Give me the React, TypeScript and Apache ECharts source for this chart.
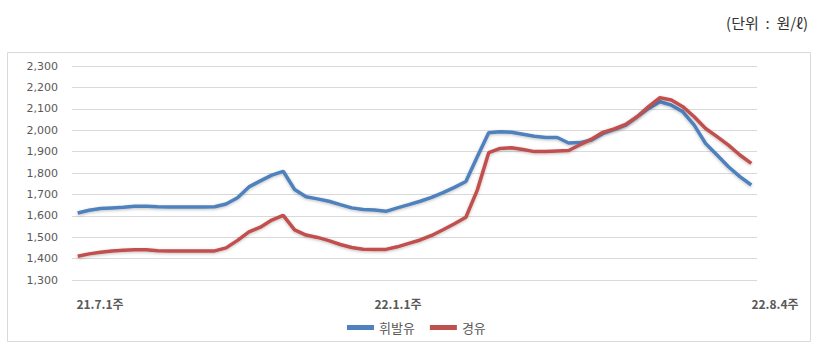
import React, { useEffect, useRef } from "react";
import * as echarts from "echarts";

const weeks: string[] = Array.from({ length: 60 }, (_, i) => `w${i + 1}`);
const xTickLabels = ["21.7.1주", "22.1.1주", "22.8.4주"];
const seriesNames = ["휘발유", "경유"];
const gasoline = [
  1613, 1626, 1634, 1637, 1640, 1645, 1645, 1642, 1641, 1641,
  1641, 1641, 1642, 1655, 1684, 1735, 1763, 1790, 1808, 1723,
  1689, 1679, 1668, 1652, 1637, 1629, 1627, 1621, 1637, 1652,
  1668, 1686, 1708, 1733, 1760, 1876, 1988, 1993, 1990, 1981,
  1972, 1966, 1966, 1940, 1942, 1954, 1985, 2004, 2024, 2063,
  2102, 2133, 2117, 2086, 2024, 1938, 1884, 1829, 1783, 1744,
];
const diesel = [
  1411, 1422, 1430, 1436, 1439, 1441, 1441, 1437, 1435, 1436,
  1436, 1436, 1436, 1450, 1485, 1525, 1547, 1580, 1602, 1534,
  1510, 1499, 1484, 1466, 1452, 1444, 1442, 1443, 1455, 1471,
  1487, 1508, 1535, 1563, 1593, 1720, 1895, 1915, 1918, 1910,
  1900, 1900, 1903, 1905, 1932, 1958, 1990, 2006, 2027, 2063,
  2110, 2152, 2141, 2110, 2063, 2008, 1970, 1930, 1884, 1845,
];
const unitText = "(단위  :  원/ℓ)";

export default function App() {
  const ref = useRef<HTMLDivElement>(null);
  useEffect(() => {
    document.body.style.margin = "0";
    const chart = echarts.init(ref.current!, null, { renderer: "svg" });
    const font = "'Noto Sans CJK KR', 'Noto Sans', sans-serif";
    const labelPos = [100, 398, 775];
    chart.setOption({
      animation: false,
      backgroundColor: "#ffffff",
      textStyle: { fontFamily: font },
      grid: { left: 72, right: 80, top: 66, bottom: 80, containLabel: false },
      xAxis: {
        type: "category",
        data: weeks,
        boundaryGap: true,
        axisLine: { show: false },
        axisTick: { show: false },
        axisLabel: { show: false },
        splitLine: { show: false },
      },
      yAxis: {
        type: "value",
        min: 1300,
        max: 2300,
        interval: 100,
        axisLine: { show: false },
        axisTick: { show: false },
        axisLabel: {
          margin: 14,
          color: "#595959",
          fontSize: 11,
          fontFamily: "'DejaVu Sans', sans-serif",
          formatter: (v: number) => v.toLocaleString("en-US"),
        },
        splitLine: { lineStyle: { color: "#d9d9d9", width: 1 } },
      },
      legend: {
        left: 342,
        top: 316,
        itemWidth: 27,
        itemHeight: 5,
        itemGap: 15,
        icon: "rect",
        textStyle: { color: "#595959", fontSize: 13, fontFamily: font },
        data: seriesNames,
      },
      series: [
        {
          name: seriesNames[0],
          type: "line",
          data: gasoline,
          showSymbol: false,
          symbol: "none",
          color: "#4F81BD",
          lineStyle: {
            width: 3.5,
            color: "#4F81BD",
            shadowColor: "rgba(0,0,0,0.25)",
            shadowBlur: 3,
            shadowOffsetY: 1,
          },
        },
        {
          name: seriesNames[1],
          type: "line",
          data: diesel,
          showSymbol: false,
          symbol: "none",
          color: "#C0504D",
          lineStyle: {
            width: 3.5,
            color: "#C0504D",
            shadowColor: "rgba(0,0,0,0.25)",
            shadowBlur: 3,
            shadowOffsetY: 1,
          },
        },
      ],
      graphic: [
        {
          type: "rect",
          shape: { x: 7.5, y: 52.5, width: 803, height: 289 },
          style: { fill: "none", stroke: "#d9d9d9", lineWidth: 1 },
          z: -1,
        },
        {
          type: "text",
          x: 808,
          y: 22,
          style: {
            text: unitText,
            fill: "#333333",
            font: `15px ${font}`,
            textAlign: "right",
            textVerticalAlign: "middle",
          },
        },
        ...xTickLabels.map((t, i) => ({
          type: "text",
          x: labelPos[i],
          y: 303,
          style: {
            text: t,
            fill: "#595959",
            font: `bold 12px ${font}`,
            textAlign: "center",
            textVerticalAlign: "middle",
          },
        })),
      ],
    });
    return () => chart.dispose();
  }, []);
  return <div ref={ref} style={{ width: 837, height: 360 }} />;
}
